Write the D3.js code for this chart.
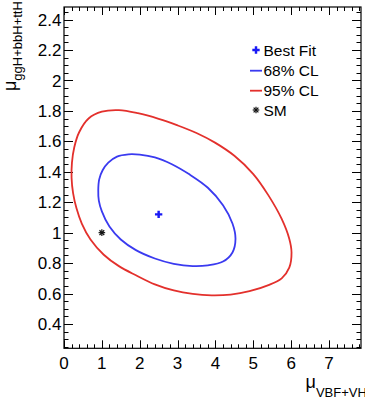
<!DOCTYPE html>
<html>
<head>
<meta charset="utf-8">
<script src="https://cdn.jsdelivr.net/npm/d3@7"></script>
<style>
  html, body { margin: 0; padding: 0; background: #fff; }
  svg { display: block; font-family: "Liberation Sans", Arial, Helvetica, sans-serif; }
</style>
</head>
<body>
<svg id="chart" width="365" height="403"></svg>
<script>
// contour points (mu_VBF+VH, mu_ggH+bbH+ttH)
var redX = [0.2, 0.21, 0.27, 0.4, 0.65, 1.0, 1.45, 1.95, 2.5, 3.0, 3.5, 4.0, 4.5, 5.0, 5.4, 5.75, 5.95, 6.01, 5.95, 5.75, 5.4, 4.9, 4.4, 3.9, 3.4, 2.9, 2.4, 1.9, 1.45, 1.05, 0.7, 0.47, 0.33, 0.24];
var redY = [1.36, 1.46, 1.56, 1.66, 1.75, 1.795, 1.805, 1.785, 1.748, 1.705, 1.655, 1.59, 1.505, 1.385, 1.245, 1.09, 0.96, 0.87, 0.77, 0.70, 0.655, 0.615, 0.593, 0.588, 0.597, 0.62, 0.66, 0.72, 0.78, 0.855, 0.955, 1.06, 1.16, 1.26];
var blueX = [0.905, 0.93, 1.02, 1.17, 1.4, 1.7, 2.0, 2.4, 2.85, 3.3, 3.8, 4.2, 4.45, 4.53, 4.45, 4.2, 3.8, 3.4, 2.9, 2.4, 1.9, 1.5, 1.2, 1.0, 0.92];
var blueY = [1.28, 1.35, 1.41, 1.46, 1.50, 1.515, 1.513, 1.495, 1.45, 1.385, 1.295, 1.18, 1.06, 0.96, 0.87, 0.81, 0.785, 0.78, 0.795, 0.83, 0.885, 0.955, 1.04, 1.14, 1.21];
var bestFit = [2.5, 1.12];
var sm = [1.0, 1.0];
var xTicks = [0, 1, 2, 3, 4, 5, 6, 7];
var yTicks = [0.4, 0.6, 0.8, 1, 1.2, 1.4, 1.6, 1.8, 2, 2.2, 2.4];
var legendLabels = ["Best Fit", "68% CL", "95% CL", "SM"];

var svg = d3.select("#chart");
var frameL = 64, frameR = 361, frameT = 7, frameB = 348.3;
var blue = "#3a3af0", red = "#e3302c";

var x = d3.scaleLinear().domain([0, 7.845]).range([frameL, frameR]);
var y = d3.scaleLinear().domain([0.24, 2.483]).range([frameB, frameT]);

// ticks (ROOT style, inside the frame on all four sides)
var xMinor = d3.range(0, 7.85, 0.2);
var yMinor = d3.range(0.25, 2.48, 0.05);
var g = svg.append("g").attr("stroke", "#000").attr("stroke-width", 1);

function isMajor(v, step) {
  return Math.abs(v / step - Math.round(v / step)) < 1e-6;
}
xMinor.forEach(function (v) {
  var len = isMajor(v, 1) ? 8 : 4;
  var px = Math.round(x(v)) + 0.5;
  g.append("line").attr("x1", px).attr("x2", px).attr("y1", frameB).attr("y2", frameB - len);
  g.append("line").attr("x1", px).attr("x2", px).attr("y1", frameT).attr("y2", frameT + len);
});
yMinor.forEach(function (v) {
  var len = isMajor(v, 0.2) ? 9 : 4.5;
  var py = Math.round(y(v)) + 0.5;
  g.append("line").attr("y1", py).attr("y2", py).attr("x1", frameL).attr("x2", frameL + len);
  g.append("line").attr("y1", py).attr("y2", py).attr("x1", frameR).attr("x2", frameR - len);
});

svg.append("rect")
  .attr("x", frameL).attr("y", frameT)
  .attr("width", frameR - frameL).attr("height", frameB - frameT)
  .attr("fill", "none").attr("stroke", "#000").attr("stroke-width", 1.2);

// tick labels
svg.append("g").selectAll("text").data(xTicks).enter().append("text")
  .attr("x", function (d) { return x(d); })
  .attr("y", 368.5)
  .attr("text-anchor", "middle")
  .attr("font-size", 17)
  .text(function (d) { return d; });

svg.append("g").selectAll("text").data(yTicks).enter().append("text")
  .attr("x", 61.5)
  .attr("y", function (d) { return y(d); })
  .attr("dy", "0.36em")
  .attr("text-anchor", "end")
  .attr("font-size", 17)
  .text(function (d) { return d; });

// axis titles
var xt = svg.append("text").attr("x", 305.5).attr("y", 387.5);
xt.append("tspan").attr("font-size", 18).text("\u03bc");
xt.append("tspan").attr("font-size", 13).attr("dy", 9.5).text("VBF+VH");

var yt = svg.append("text").attr("transform", "translate(16,91) rotate(-90)");
yt.append("tspan").attr("font-size", 18).text("\u03bc");
yt.append("tspan").attr("font-size", 13).attr("dy", 5.5).text("ggH+bbH+ttH");

// contours
var line = d3.line()
  .x(function (d) { return x(d[0]); })
  .y(function (d) { return y(d[1]); })
  .curve(d3.curveCatmullRomClosed.alpha(0.5));

svg.append("path")
  .datum(d3.zip(redX, redY))
  .attr("d", line)
  .attr("fill", "none").attr("stroke", red).attr("stroke-width", 1.8);

svg.append("path")
  .datum(d3.zip(blueX, blueY))
  .attr("d", line)
  .attr("fill", "none").attr("stroke", blue).attr("stroke-width", 1.8);

// markers
function star(cx, cy) {
  var s = svg.append("g").attr("stroke", "#111").attr("stroke-width", 1.2);
  var r = 3.3;
  [[r, 0], [0, r], [r * 0.72, r * 0.72], [r * 0.72, -r * 0.72]].forEach(function (p) {
    s.append("line").attr("x1", cx - p[0]).attr("y1", cy - p[1]).attr("x2", cx + p[0]).attr("y2", cy + p[1]);
  });
}
var cross = d3.symbol().type(d3.symbolCross).size(30);

svg.append("path").attr("d", cross)
  .attr("transform", "translate(" + x(bestFit[0]) + "," + y(bestFit[1]) + ")")
  .attr("fill", "#1a1af5");
star(x(sm[0]), y(sm[1]));

// legend
var lx = 256, ly = [50, 70.7, 90.7, 110];
svg.append("path").attr("d", cross).attr("transform", "translate(" + lx + "," + ly[0] + ")").attr("fill", "#1a1af5");
svg.append("line").attr("x1", 250).attr("x2", 262).attr("y1", ly[1]).attr("y2", ly[1]).attr("stroke", blue).attr("stroke-width", 1.8);
svg.append("line").attr("x1", 250).attr("x2", 262).attr("y1", ly[2]).attr("y2", ly[2]).attr("stroke", red).attr("stroke-width", 1.8);
star(lx, ly[3]);

svg.append("g").selectAll("text").data(legendLabels).enter().append("text")
  .attr("x", 263.5)
  .attr("y", function (d, i) { return ly[i]; })
  .attr("dy", "0.36em")
  .attr("font-size", 15.5)
  .text(function (d) { return d; });
</script>
</body>
</html>
